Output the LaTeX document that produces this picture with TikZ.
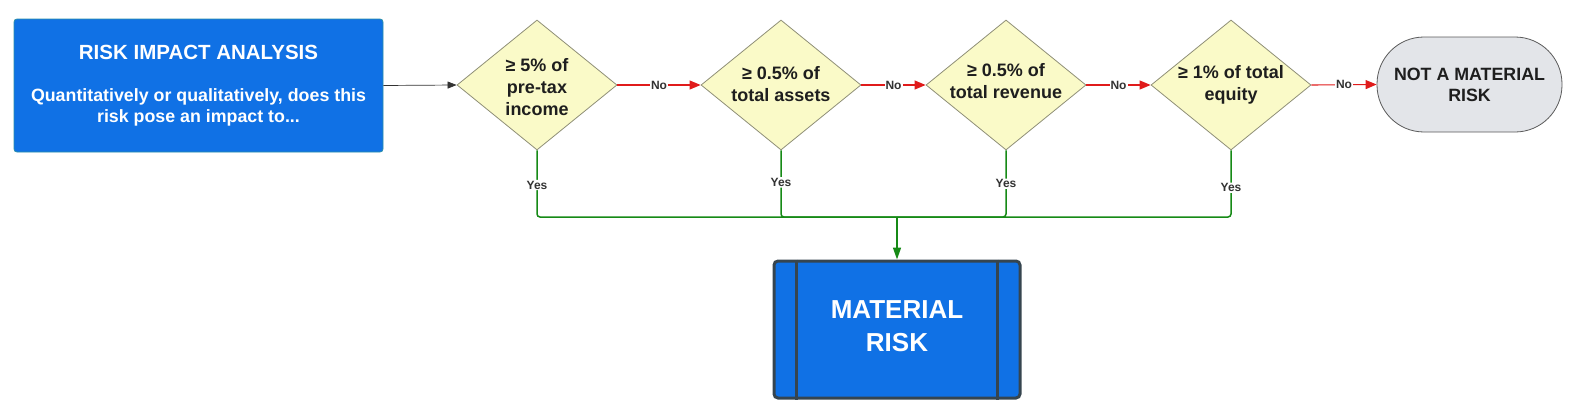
\documentclass[tikz,border=0pt]{standalone}
\usepackage{fontspec}
\setmainfont{Liberation Sans}
\usetikzlibrary{shapes.geometric,arrows.meta}
\definecolor{boxblue}{HTML}{1071E5}
\definecolor{boxedge}{HTML}{2A8FA8}
\definecolor{matedge}{HTML}{36454F}
\definecolor{dfill}{HTML}{FAFAC8}
\definecolor{dedge}{HTML}{8F8F77}
\definecolor{tfill}{HTML}{E3E5E9}
\definecolor{tedge}{HTML}{5A5A5A}
\definecolor{nored}{HTML}{E01B1B}
\definecolor{yesgreen}{HTML}{168A16}
\definecolor{txt}{HTML}{1E1E1E}
\definecolor{lbl}{HTML}{333333}
\begin{document}
\begin{tikzpicture}[x=1pt,y=-1pt,
  dec/.style={shape=diamond,draw=dedge,fill=dfill,line width=0.8pt,inner sep=0pt,
    minimum width=160pt,minimum height=130pt},
  dectxt/.style={align=center,text=txt,inner sep=0pt,
    font=\bfseries\fontsize{18}{22}\selectfont},
  lab/.style={fill=white,inner sep=1pt,text=lbl,font=\bfseries\fontsize{12}{13}\selectfont},
  noline/.style={draw=nored,line width=1.1pt,-{Triangle[length=11pt,width=9pt]}},
  yesline/.style={draw=yesgreen,line width=1.5pt,rounded corners=3pt},
  wtxt/.style={text=white,align=center}]
\useasboundingbox (0,0) rectangle (1582,415);
% start box
\node[draw=boxedge,fill=boxblue,line width=0.8pt,rounded corners=3pt,
  minimum width=369pt,minimum height=133pt,inner sep=0pt] (start) at (198.5,85.5) {};
\node[wtxt,font=\bfseries\fontsize{20.5}{24}\selectfont] (title) at (198.5,52) {RISK IMPACT ANALYSIS};
\node[wtxt,font=\bfseries\fontsize{17.8}{21.7}\selectfont] (sub) at (198.5,107.5)
  {Quantitatively or qualitatively, does this\\risk pose an impact to...};
% decisions
\node[dec] (d1) at (537,85) {};
\node[dectxt] (t1) at (537,87) {≥ 5\% of\\pre-tax\\income};
\node[dec] (d2) at (781,85) {};
\node[dectxt] (t2) at (781,84) {≥ 0.5\% of\\total assets};
\node[dec] (d3) at (1006,85) {};
\node[dectxt] (t3) at (1006,81) {≥ 0.5\% of\\total revenue};
\node[dec] (d4) at (1231,85) {};
\node[dectxt] (t4) at (1231,85) {≥ 1\% of total\\equity};
% terminal
\node[draw=tedge,fill=tfill,line width=0.8pt,rounded corners=47pt,minimum width=185pt,
  minimum height=95pt,inner sep=0pt,align=center,text=txt,
  font=\bfseries\fontsize{17.8}{21}\selectfont] (notm) at (1469.5,84.5) {NOT A MATERIAL\\RISK};
% material risk
\node[draw=matedge,fill=boxblue,line width=3pt,rounded corners=4pt,minimum width=246pt,
  minimum height=137pt,inner sep=0pt] (mat) at (897,329.5) {};
\draw[matedge,line width=3pt] ([xshift=24pt]mat.north west) -- ([xshift=24pt]mat.south west);
\draw[matedge,line width=3pt] ([xshift=-24pt]mat.north east) -- ([xshift=-24pt]mat.south east);
\node[wtxt,font=\bfseries\fontsize{26}{33}\selectfont] (mattxt) at (897,326.5) {MATERIAL\\RISK};
% connectors
\draw[draw=lbl,line width=0.7pt,-{Triangle[length=9pt,width=7pt]}] (start.east) -- (d1.west);
\draw[noline] (d1.east) -- node[lab]{No} (d2.west);
\draw[noline] (d2.east) -- node[lab]{No} (d3.west);
\draw[noline] (d3.east) -- node[lab]{No} (d4.west);
\draw[noline] (d4.east) -- node[lab]{No} (notm.west);
\coordinate (m) at (897,217);
\draw[yesline] (d1.south) |- node[lab,pos=0.26]{Yes} (m);
\draw[yesline] (d2.south) |- node[lab,pos=0.24]{Yes} (m);
\draw[yesline] (d3.south) |- node[lab,pos=0.25]{Yes} (m);
\draw[yesline] (d4.south) |- node[lab,pos=0.28]{Yes} (m);
\draw[draw=yesgreen,line width=1.5pt,-{Triangle[length=12pt,width=8pt]}] (m) -- (mat.north);
\end{tikzpicture}
\end{document}
